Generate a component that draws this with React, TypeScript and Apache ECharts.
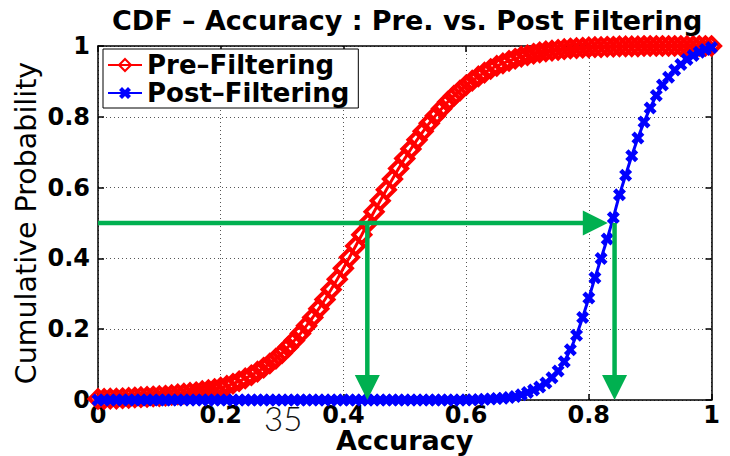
import React, { useEffect, useRef } from "react";
import * as echarts from "echarts";

const xValues = [
  0, 0.01, 0.02, 0.03, 0.04, 0.05, 0.06, 0.07, 0.08, 0.09,
  0.1, 0.11, 0.12, 0.13, 0.14, 0.15, 0.16, 0.17, 0.18, 0.19,
  0.2, 0.21, 0.22, 0.23, 0.24, 0.25, 0.26, 0.27, 0.28, 0.29,
  0.3, 0.31, 0.32, 0.33, 0.34, 0.35, 0.36, 0.37, 0.38, 0.39,
  0.4, 0.41, 0.42, 0.43, 0.44, 0.45, 0.46, 0.47, 0.48, 0.49,
  0.5, 0.51, 0.52, 0.53, 0.54, 0.55, 0.56, 0.57, 0.58, 0.59,
  0.6, 0.61, 0.62, 0.63, 0.64, 0.65, 0.66, 0.67, 0.68, 0.69,
  0.7, 0.71, 0.72, 0.73, 0.74, 0.75, 0.76, 0.77, 0.78, 0.79,
  0.8, 0.81, 0.82, 0.83, 0.84, 0.85, 0.86, 0.87, 0.88, 0.89,
  0.9, 0.91, 0.92, 0.93, 0.94, 0.95, 0.96, 0.97, 0.98, 0.99,
  1,
];

const preFiltering = [
  0.003, 0.003, 0.004, 0.004, 0.005, 0.006, 0.007, 0.008, 0.009, 0.01,
  0.011, 0.012, 0.014, 0.016, 0.018, 0.02, 0.022, 0.025, 0.028, 0.031,
  0.035, 0.04, 0.046, 0.053, 0.061, 0.07, 0.08, 0.091, 0.103, 0.117,
  0.132, 0.15, 0.168, 0.188, 0.21, 0.233, 0.258, 0.284, 0.312, 0.341,
  0.372, 0.403, 0.435, 0.467, 0.5, 0.532, 0.563, 0.594, 0.624, 0.654,
  0.682, 0.709, 0.735, 0.759, 0.782, 0.803, 0.823, 0.842, 0.859, 0.874,
  0.889, 0.902, 0.914, 0.925, 0.935, 0.944, 0.951, 0.958, 0.964, 0.97,
  0.974, 0.978, 0.982, 0.985, 0.987, 0.989, 0.991, 0.993, 0.994, 0.995,
  0.996, 0.997, 0.997, 0.998, 0.998, 0.999, 0.999, 0.999, 0.999, 1,
  1, 1, 1, 1, 1, 1, 1, 1, 1, 1,
  1,
];

const postFiltering = [
  0, 0, 0, 0, 0, 0, 0, 0, 0, 0,
  0, 0, 0, 0, 0, 0, 0, 0, 0, 0,
  0, 0, 0, 0, 0, 0, 0, 0, 0, 0,
  0, 0, 0, 0, 0, 0, 0, 0, 0, 0,
  0, 0, 0, 0, 0, 0, 0, 0, 0, 0,
  0, 0, 0, 0, 0, 0, 0, 0, 0, 0,
  0, 0.001, 0.001, 0.002, 0.003, 0.004, 0.005, 0.007, 0.01, 0.015,
  0.021, 0.028, 0.037, 0.048, 0.063, 0.082, 0.108, 0.142, 0.183, 0.233,
  0.288, 0.345, 0.4, 0.455, 0.515, 0.58, 0.635, 0.69, 0.74, 0.785,
  0.825, 0.86, 0.89, 0.912, 0.932, 0.948, 0.962, 0.973, 0.982, 0.99,
  0.996,
];

const seriesNames = ["Pre\u2013Filtering", "Post\u2013Filtering"];

// Annotation arrows: from (startX, startY) to (endX, endY)
const arrowStartX = [0, 0.439, 0.842];
const arrowStartY = [0.5, 0.5, 0.5];
const arrowEndX = [0.831, 0.439, 0.842];
const arrowEndY = [0.5, 0, 0];

const titleText = "CDF \u2013 Accuracy : Pre. vs. Post Filtering";
const xAxisName = "Accuracy";
const yAxisName = "Cumulative Probability";
const strayNote = "35";

const FONT = "DejaVu Sans";
const GREEN = "#00b050";

export default function App() {
  const ref = useRef<HTMLDivElement>(null);

  useEffect(() => {
    if (!ref.current) return;
    const chart = echarts.init(ref.current, undefined, { renderer: "svg" });

    const tickLabel = {
      color: "#000",
      fontFamily: FONT,
      fontWeight: "bold" as const,
      fontSize: 24,
    };
    const axisLine = { show: true, onZero: false, lineStyle: { color: "#000", width: 1.5 } };
    const axisTick = { show: true, inside: true, length: 6, lineStyle: { color: "#000", width: 1.5 } };
    const splitLine = { show: true, lineStyle: { color: "#555", type: [1, 3], width: 1 } };

    const option: any = {
      animation: false,
      backgroundColor: "#fff",
      title: {
        text: titleText,
        left: 112,
        top: 7,
        padding: 0,
        textStyle: { fontFamily: FONT, fontWeight: "bold", fontSize: 27, color: "#000" },
      },
      legend: {
        data: seriesNames,
        orient: "vertical",
        left: 103,
        top: 49,
        itemWidth: 34,
        itemHeight: 15,
        itemGap: 2,
        padding: [3, 9, 2, 4],
        borderColor: "#000",
        borderWidth: 1,
        borderRadius: 0,
        backgroundColor: "#fff",
        textStyle: { fontFamily: FONT, fontWeight: "bold", fontSize: 26, color: "#000" },
      },
      grid: { left: 98, right: 18.5, top: 46, bottom: 56, outerBoundsMode: "none", containLabel: false },
      xAxis: [
        {
          type: "value",
          min: 0,
          max: 1,
          interval: 0.2,
          position: "bottom",
          axisLine,
          axisTick,
          axisLabel: { ...tickLabel, margin: 3 },
          splitLine,
          name: xAxisName,
          nameLocation: "middle",
          nameGap: 27,
          nameMoveOverlap: false,
          nameTextStyle: { fontFamily: FONT, fontWeight: "bold", fontSize: 27, color: "#000" },
        },
        {
          type: "value",
          min: 0,
          max: 1,
          interval: 0.2,
          position: "top",
          axisLine,
          axisTick,
          axisLabel: { show: false },
          splitLine: { show: false },
        },
      ],
      yAxis: [
        {
          type: "value",
          min: 0,
          max: 1,
          interval: 0.2,
          position: "left",
          axisLine,
          axisTick,
          axisLabel: { ...tickLabel, margin: 8 },
          splitLine,
          name: yAxisName,
          nameLocation: "middle",
          nameGap: 57,
          nameMoveOverlap: false,
          nameTextStyle: { fontFamily: FONT, fontSize: 28.5, color: "#000" },
        },
        {
          type: "value",
          min: 0,
          max: 1,
          interval: 0.2,
          position: "right",
          axisLine,
          axisTick,
          axisLabel: { show: false },
          splitLine: { show: false },
        },
      ],
      series: [
        {
          type: "line",
          name: seriesNames[0],
          data: xValues.map((x, i) => [x, preFiltering[i]]),
          symbol: "diamond",
          symbolSize: 17,
          showSymbol: true,
          showAllSymbol: true,
          lineStyle: { color: "#ff0000", width: 3 },
          itemStyle: { color: "rgba(255,255,255,0)", borderColor: "#ff0000", borderWidth: 4 },
          z: 2,
        },
        {
          type: "line",
          name: seriesNames[1],
          data: xValues.map((x, i) => [x, postFiltering[i]]),
          symbol: "path://M0,2.5L2.5,0L5,2.5L7.5,0L10,2.5L7.5,5L10,7.5L7.5,10L5,7.5L2.5,10L0,7.5L2.5,5Z",
          symbolSize: 13,
          showSymbol: true,
          showAllSymbol: true,
          lineStyle: { color: "#0000ff", width: 3 },
          itemStyle: { color: "#0000ff" },
          z: 3,
        },
        {
          type: "custom",
          name: "arrows",
          clip: false,
          z: 5,
          data: arrowStartX.map((x, i) => [x, arrowStartY[i], arrowEndX[i], arrowEndY[i]]),
          encode: { x: [0, 2], y: [1, 3] },
          renderItem: (params: any, api: any) => {
            const s = api.coord([api.value(0), api.value(1)]);
            const e = api.coord([api.value(2), api.value(3)]);
            const dx = e[0] - s[0];
            const dy = e[1] - s[1];
            const len = Math.hypot(dx, dy) || 1;
            const ux = dx / len;
            const uy = dy / len;
            const head = 25;
            const half = 12.5;
            const bx = e[0] - ux * head;
            const by = e[1] - uy * head;
            return {
              type: "group",
              children: [
                {
                  type: "line",
                  shape: { x1: s[0], y1: s[1], x2: bx + ux * 2, y2: by + uy * 2 },
                  style: { stroke: GREEN, lineWidth: 4.5 },
                },
                {
                  type: "polygon",
                  shape: {
                    points: [
                      [e[0], e[1]],
                      [bx - uy * half, by + ux * half],
                      [bx + uy * half, by - ux * half],
                    ],
                  },
                  style: { fill: GREEN },
                },
              ],
            };
          },
        },
      ],
      graphic: [
        {
          type: "text",
          left: 264,
          top: 401,
          style: { text: strayNote, fontFamily: "Lato", fontWeight: 300, fontSize: 33, fill: "#111" },
        },
      ],
    };

    chart.setOption(option);
    return () => chart.dispose();
  }, []);

  return (
    <div
      ref={ref}
      style={{ position: "fixed", left: 0, top: 0, width: 730, height: 456, background: "#fff" }}
    />
  );
}
